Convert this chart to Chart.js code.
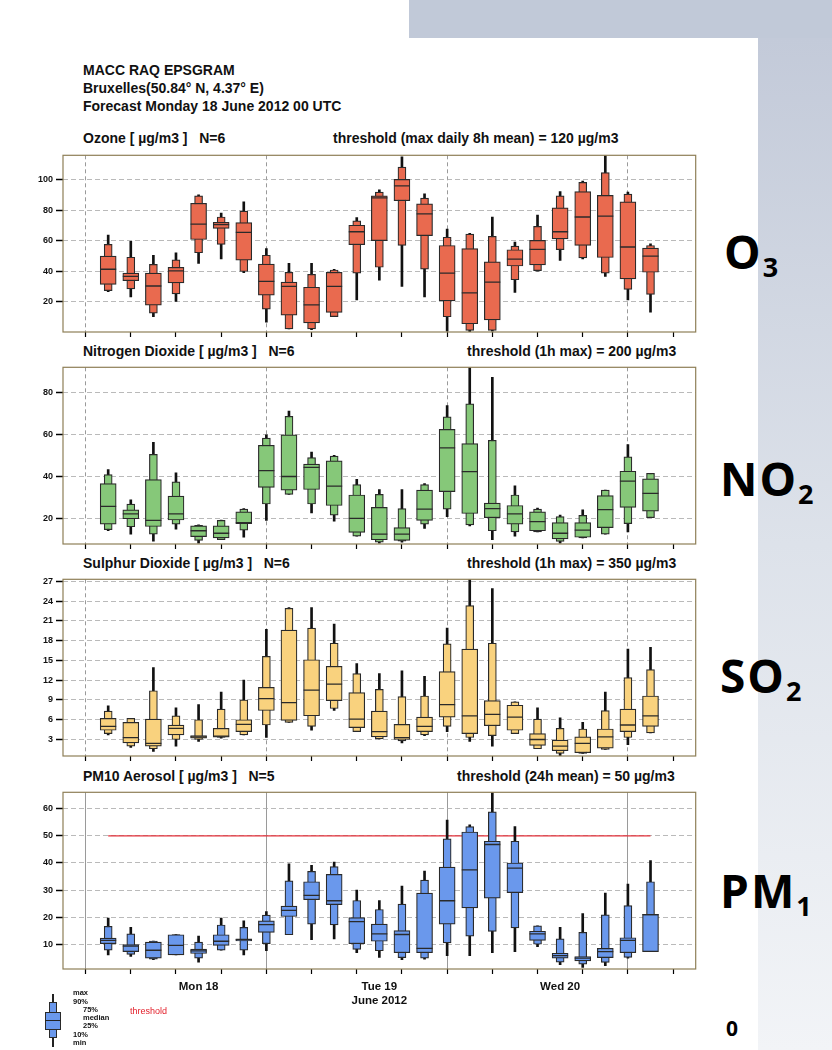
<!DOCTYPE html>
<html lang="en">
<head>
<meta charset="UTF-8">
<title>MACC RAQ EPSGRAM</title>
<script src="https://cdn.jsdelivr.net/npm/chart.js@4"></script>
<style>
  body { margin: 0; width: 832px; height: 1050px; position: relative; overflow: hidden; background: #fff;
         font-family: "Liberation Sans", Arial, sans-serif; color: #111; }
  .band { position: absolute; left: 409px; top: 0; width: 423px; height: 38px; background: #c1c9d8; }
  .strip { position: absolute; left: 758px; top: 38px; width: 74px; height: 1012px;
           background: linear-gradient(#c3cad9, #dde2ea 50%, #f2f4f7); }
  .txt { position: absolute; white-space: pre; font-weight: bold; }
  .head { left: 83px; font-size: 14px; }
  .title { font-size: 14px; }
  canvas { position: absolute; left: 20px; }
  .spc { position: absolute; font-family: "Open Sans", sans-serif; font-weight: bold; font-size: 46px; line-height: 1;
         letter-spacing: 2px; color: #000; }
  .spc sub { font-size: 27px; vertical-align: -0.3em; letter-spacing: 0; }
  .lg { position: absolute; font-size: 7.5px; font-weight: bold; line-height: 1; }
  .lgbox { position: absolute; background: #6a98ec; border: 1px solid #2a2a2a; box-sizing: border-box; }
</style>
</head>
<body>
  <div class="band"></div>
  <div class="strip"></div>

  <div class="txt head" style="top:62px">MACC RAQ EPSGRAM</div>
  <div class="txt head" style="top:80px">Bruxelles(50.84° N, 4.37° E)</div>
  <div class="txt head" style="top:98px">Forecast Monday 18 June 2012 00 UTC</div>

  <div class="txt title" style="left:83px; top:130px">Ozone [ µg/m3 ]   N=6</div>
  <div class="txt title" style="left:333px; top:130px">threshold (max daily 8h mean) = 120 µg/m3</div>
  <canvas id="o3Chart" width="685" height="196" style="top:146px"></canvas>

  <div class="txt title" style="left:83px; top:343px">Nitrogen Dioxide [ µg/m3 ]   N=6</div>
  <div class="txt title" style="left:467px; top:343px">threshold (1h max) = 200 µg/m3</div>
  <canvas id="no2Chart" width="685" height="196" style="top:358px"></canvas>

  <div class="txt title" style="left:83px; top:555px">Sulphur Dioxide [ µg/m3 ]   N=6</div>
  <div class="txt title" style="left:467px; top:555px">threshold (1h max) = 350 µg/m3</div>
  <canvas id="so2Chart" width="685" height="196" style="top:570px"></canvas>

  <div class="txt title" style="left:83px; top:768px">PM10 Aerosol [ µg/m3 ]   N=5</div>
  <div class="txt title" style="left:457px; top:768px">threshold (24h mean) = 50 µg/m3</div>
  <canvas id="pm10Chart" width="685" height="232" style="top:783px"></canvas>

  <!-- legend -->
  <div style="position:absolute; left:52px; top:994px; width:2px; height:53px; background:#222"></div>
  <div class="lgbox" style="left:49px; top:1002px; width:8px; height:36px"></div>
  <div class="lgbox" style="left:45px; top:1012px; width:16px; height:18px"></div>
  <div style="position:absolute; left:45px; top:1020px; width:16px; height:1px; background:#222"></div>
  <div class="lg" style="left:73px; top:989px">max</div>
  <div class="lg" style="left:73px; top:998px">90%</div>
  <div class="lg" style="left:83px; top:1006px">75%</div>
  <div class="lg" style="left:83px; top:1014px">median</div>
  <div class="lg" style="left:83px; top:1022px">25%</div>
  <div class="lg" style="left:73px; top:1031px">10%</div>
  <div class="lg" style="left:73px; top:1039px">min</div>
  <div class="lg" style="left:130px; top:1007px; font-size:9px; font-weight:normal; color:#e3202b">threshold</div>

  <div class="spc" style="left:724px; top:228px">O<sub>3</sub></div>
  <div class="spc" style="left:720px; top:455px">NO<sub>2</sub></div>
  <div class="spc" style="left:720px; top:652px">SO<sub>2</sub></div>
  <div class="spc" style="left:720px; top:867px">PM<sub>1</sub></div>
  <div class="spc" style="left:726px; top:1018px; font-size:21px">0</div>

<script>
// forecast step, hours after Mon 18 June 2012 00 UTC
const hours = [0, 3, 6, 9, 12, 15, 18, 21, 24, 27, 30, 33, 36, 39, 42, 45, 48, 51, 54, 57, 60, 63, 66, 69, 72];
const xTickHours = [-6, 0, 6, 12, 18, 24, 30, 36, 42, 48, 54, 60, 66, 72, 78];
const dayTickHours = [12, 36, 60];
const dayTickText = [['Mon 18'], ['Tue 19', 'June 2012'], ['Wed 20']];

// Ozone
const o3Ticks = [20, 40, 60, 80, 100];
const o3Min = [26.5, 23, 10, 20, 45, 48, 39, 6.5, 2, 1.5, 10, 21, 34, 30, 23, 0.5, 0, 0.5, 26, 40, 47, 48, 36.5, 21, 13];
const o3P10 = [27.2, 28.3, 12.4, 25, 52, 57.5, 39.7, 15, 2.1, 2.1, 10.1, 38.6, 42.5, 56.8, 41.2, 10, 1, 1, 34.3, 40.3, 54, 48.7, 38.6, 28, 24.7];
const o3P25 = [31.3, 33.7, 17.6, 32.2, 60.7, 68, 47.2, 24.2, 11.1, 6, 12.9, 57.3, 60, 86.2, 63.3, 20.4, 5.4, 7.9, 43.3, 44, 61.1, 56.8, 48.9, 34.9, 39.2];
const o3Med = [41.2, 36.5, 30.2, 40.1, 70.8, 70.5, 65.4, 33.2, 30, 17.8, 30, 65.8, 88, 95.9, 77.6, 38.6, 25.7, 32.8, 47.8, 54.3, 65.8, 75.5, 76.1, 55.8, 49.8];
const o3P75 = [49.8, 38.6, 38.6, 42.5, 84.5, 72, 71.8, 44.6, 32.8, 29.4, 39.2, 70.1, 89.4, 100.2, 84.1, 56.8, 54.7, 46.1, 54, 60.1, 81.5, 92.2, 89.7, 85.4, 55.1];
const o3P90 = [57.5, 49.1, 44.4, 47.4, 89.4, 75.5, 79.4, 50.4, 39.2, 37.9, 40.7, 72.9, 91.8, 108.3, 87.9, 62.2, 64.3, 62.8, 56.4, 69.3, 89.4, 98.2, 104.7, 90.5, 56.8];
const o3Max = [63.7, 59.6, 50.4, 51.9, 90, 78, 85.4, 54.7, 45, 45, 41.2, 75.1, 93.3, 115, 90.7, 67.6, 64.8, 75.5, 59, 76.8, 92.2, 99.1, 117, 91.8, 57.9];

// Nitrogen dioxide
const no2Ticks = [20, 40, 60, 80];
const no2Min = [14.3, 12.7, 9.4, 15.1, 8.4, 10.1, 11.2, 19.2, 31.6, 22.8, 18.9, 11.7, 8.4, 8.9, 15.4, 21, 16.6, 10.1, 11.7, 13.8, 8.4, 10.9, 12.7, 13.8, 20.5];
const no2P10 = [14.8, 16.2, 12.7, 17.4, 9.7, 10.1, 14.6, 27, 31.6, 27, 21.7, 11.7, 8.9, 9.4, 17.4, 24.6, 17.1, 14.3, 13.8, 13.8, 9.2, 10.9, 12.7, 17.7, 20.5];
const no2P25 = [17.4, 20, 16.3, 19.4, 11.5, 10.9, 17.7, 34.9, 33.6, 33.9, 26.3, 13.5, 10, 9.7, 19.2, 32.9, 22.5, 20.5, 17.4, 14.3, 10.4, 11.2, 15.8, 25.4, 23.6];
const no2Med = [25.9, 22.3, 19.2, 22.3, 14.3, 13.1, 18.2, 42.9, 40.1, 44.4, 35.5, 20.2, 12.7, 12.7, 24.6, 53.7, 42.4, 24.8, 22.3, 18.6, 13.1, 14.6, 24.3, 37.9, 32.1];
const no2P75 = [36.7, 24.2, 38.6, 30.8, 16.6, 16.6, 23.3, 54.9, 59.9, 46, 47.5, 31.3, 25.4, 15.8, 33.6, 62.5, 55.7, 27.4, 26.3, 23.3, 18.2, 18.2, 31, 42.6, 39];
const no2P90 = [41, 27, 50.6, 37.5, 16.9, 19.2, 24.6, 58.3, 68.7, 49.1, 49.8, 36.2, 31.6, 24.8, 36.2, 68.4, 74.6, 57.3, 31.3, 24.6, 21, 21.6, 33.6, 49.4, 41.6];
const no2Max = [43.4, 29, 56.3, 41.8, 17.1, 19.4, 24.8, 59.9, 71.2, 51.7, 50.1, 38.7, 33.9, 33.9, 36.7, 73.8, 93, 87.2, 35.6, 25.1, 21.7, 24.3, 33.6, 55.3, 41.6];

// Sulphur dioxide
const so2Ticks = [3, 6, 9, 12, 15, 18, 21, 24, 27];
const so2Min = [3.7, 1.8, 1.2, 2, 2.7, 3.2, 3.7, 3.3, 5.6, 4.4, 7.4, 4.2, 3.1, 2.5, 3.6, 4.2, 2.7, 2, 3.9, 1.6, 0.5, 0.9, 1.5, 2.2, 4];
const so2P10 = [3.9, 2, 1.6, 3, 3, 3.3, 3.7, 5.2, 5.6, 5, 7.7, 4.2, 3.1, 2.8, 3.7, 5, 3.3, 3.6, 3.9, 1.6, 0.9, 0.9, 1.5, 3.3, 4];
const so2P25 = [4.4, 2.5, 2, 3.7, 3.2, 3.35, 4.2, 7.4, 5.9, 6.6, 8.9, 4.8, 3.4, 3, 4.2, 6.4, 3.9, 5.1, 4.4, 2.1, 1.3, 1, 1.7, 4.2, 5];
const so2Med = [5, 3.3, 2.4, 4.7, 3.4, 3.5, 5.3, 9.2, 8.6, 10.5, 11.4, 6.1, 4.2, 3.3, 5, 8.3, 6.6, 6.8, 6.4, 3, 2, 2.4, 3.4, 5.2, 6.6];
const so2P75 = [6.2, 5.6, 6.1, 5.2, 3.6, 4.7, 6, 10.9, 19.6, 15.1, 14.1, 10.1, 7.3, 5.3, 6.4, 13.3, 16.7, 8.9, 8.2, 3.9, 2.9, 3.4, 4.6, 7.6, 9.6];
const so2P90 = [7.3, 6.2, 10.4, 6.6, 6, 7.6, 9, 15.6, 22.9, 19.9, 17.6, 13, 10.6, 9.5, 9.6, 17.5, 23.3, 17.6, 8.7, 6.1, 4.7, 4.6, 7.4, 12.4, 13.6];
const so2Max = [8.1, 6.2, 13.9, 7.8, 8.3, 10.2, 12, 19.7, 23, 23, 20.5, 14.5, 13, 13.4, 12.6, 19.9, 27.5, 25.9, 8.7, 7.8, 6.3, 5.6, 10.2, 16.7, 17];

// PM10 aerosol
const pm10Ticks = [10, 20, 30, 40, 50, 60];
const pm10Threshold = 50;
const pm10Min = [6.2, 5.6, 4.4, 6.2, 3.5, 7.9, 6.2, 7.7, 13.6, 11.8, 12.1, 7, 5.3, 4.4, 4.6, 5.9, 5.9, 7, 7.4, 9.2, 2.6, 1.6, 2.2, 5, 7.4];
const pm10P10 = [7.9, 6.4, 4.6, 6.2, 5, 7.9, 7.9, 10.3, 13.6, 17.5, 17.2, 8.2, 7.7, 5.2, 5, 10.6, 13.1, 14.8, 16.1, 10.1, 3.5, 2.8, 3.4, 5.3, 7.4];
const pm10P25 = [10.3, 7.4, 5, 6.2, 6.7, 9.7, 11.3, 14.5, 20.3, 26.5, 24.7, 10.3, 11.2, 7, 7, 17.5, 23.5, 27.1, 29.1, 11.5, 5, 4, 5.2, 7, 7.4];
const pm10Med = [11.5, 9.4, 7.9, 9.7, 7.7, 11.2, 11.8, 17.3, 22.6, 28.1, 26.1, 18.4, 13.9, 13.7, 8.6, 26.1, 37.5, 46.8, 38.1, 13.9, 5.9, 5, 7.4, 11.5, 21];
const pm10P75 = [12.4, 10, 10.9, 13.6, 8.3, 13.6, 12.1, 18.7, 24.1, 33.1, 35.8, 19.9, 17.5, 15.1, 28.9, 38.5, 51.4, 48, 40, 14.9, 6.8, 5.6, 8.6, 12.5, 21.1];
const pm10P90 = [16.7, 13.9, 11.3, 13.7, 10.9, 17.2, 16.3, 20.8, 33.4, 36.9, 38.7, 26.2, 22.9, 24.9, 33.7, 48.9, 53.4, 58.8, 48, 16.9, 12.1, 14.5, 20.9, 24.3, 33.1];
const pm10Max = [19.7, 16.3, 11.3, 13.7, 13.1, 19.7, 18.7, 22.1, 39.7, 39.1, 40.3, 30, 26.2, 31.5, 37, 55.8, 54, 67, 53.4, 16.9, 16.3, 21.4, 28.9, 32.2, 40.9];

const edge = '#2a2a2a';

// draws the brown frame round the plot area
const framePlugin = {
  id: 'frame',
  afterDatasetsDraw(chart) {
    const { ctx, chartArea: a } = chart;
    ctx.save();
    ctx.strokeStyle = '#8e7f57';
    ctx.lineWidth = 1.2;
    ctx.strokeRect(a.left, a.top, a.right - a.left, a.bottom - a.top);
    ctx.restore();
  }
};

function spans(lo, hi) {
  return hours.map((h, i) => ({ x: h, y: [lo[i], hi[i]] }));
}

function makePanel(id, p) {
  const datasets = [
    { type: 'bar', data: spans(p.min, p.max), backgroundColor: '#111', borderWidth: 0,
      barThickness: 2, grouped: false, order: 4 },
    { type: 'bar', data: spans(p.p10, p.p90), backgroundColor: p.color, borderColor: edge,
      borderWidth: 1.2, borderSkipped: false, barThickness: 8, grouped: false, order: 3 },
    { type: 'bar', data: spans(p.p25, p.p75), backgroundColor: p.color, borderColor: edge,
      borderWidth: 1.2, borderSkipped: false, barThickness: 16, grouped: false, order: 2 },
    { type: 'line', data: hours.map((h, i) => ({ x: h, y: p.med[i] })), showLine: false,
      pointStyle: 'line', pointRadius: 8, pointBorderWidth: 1.3, pointBorderColor: edge, order: 1 }
  ];
  if (p.threshold !== undefined) {
    datasets.push({ type: 'line', data: [{ x: hours[0], y: p.threshold }, { x: hours[hours.length - 1], y: p.threshold }],
      borderColor: '#e3303a', borderWidth: 1.2, pointRadius: 0, order: 5 });
  }

  new Chart(document.getElementById(id), {
    type: 'bar',
    data: { datasets },
    plugins: [framePlugin],
    options: {
      responsive: false,
      animation: false,
      devicePixelRatio: 1,
      events: [],
      layout: { padding: { top: 6, right: 5, left: 0, bottom: 0 } },
      plugins: { legend: { display: false }, tooltip: { enabled: false } },
      scales: {
        x: {
          type: 'linear', min: -6, max: 78, offset: false,
          afterBuildTicks: s => { s.ticks = xTickHours.map(v => ({ value: v })); },
          afterFit: s => { s.height = p.axisH; },
          grid: {
            color: c => (c.tick && c.tick.value % 24 === 0 && c.tick.value >= 0 && c.tick.value <= 72) ? '#9a9a9a' : 'rgba(0,0,0,0)',
            lineWidth: 1, tickColor: '#000', tickLength: 5, tickWidth: 1.2
          },
          border: { display: false, dash: p.solidDays ? [] : [4, 3] },
          ticks: {
            display: p.showDays, autoSkip: false, maxRotation: 0, padding: 6, color: '#111',
            font: { size: 11.5, weight: 'bold' },
            callback: v => { const k = dayTickHours.indexOf(v); return k < 0 ? '' : dayTickText[k]; }
          }
        },
        y: {
          min: p.yMin, max: p.yMax,
          afterBuildTicks: s => { s.ticks = p.ticks.map(v => ({ value: v })); },
          afterFit: s => { s.width = 43; },
          grid: { color: '#a8a8a8', lineWidth: 0.8, tickColor: '#000', tickLength: 7, tickWidth: 1.5 },
          border: { display: false, dash: [5, 3] },
          ticks: { padding: 3, color: '#111', font: { size: 9, weight: 'bold' } }
        }
      }
    }
  });
}

Chart.defaults.font.family = '"Liberation Sans", Arial, sans-serif';

makePanel('o3Chart', { min: o3Min, p10: o3P10, p25: o3P25, med: o3Med, p75: o3P75, p90: o3P90, max: o3Max,
  ticks: o3Ticks, yMin: 0, yMax: 116, color: '#e96a4f', axisH: 10, showDays: false });
makePanel('no2Chart', { min: no2Min, p10: no2P10, p25: no2P25, med: no2Med, p75: no2P75, p90: no2P90, max: no2Max,
  ticks: no2Ticks, yMin: 8, yMax: 92, color: '#86c879', axisH: 10, showDays: false });
makePanel('so2Chart', { min: so2Min, p10: so2P10, p25: so2P25, med: so2Med, p75: so2P75, p90: so2P90, max: so2Max,
  ticks: so2Ticks, yMin: 0.5, yMax: 27.3, color: '#f9d27e', axisH: 10, showDays: false });
makePanel('pm10Chart', { min: pm10Min, p10: pm10P10, p25: pm10P25, med: pm10Med, p75: pm10P75, p90: pm10P90, max: pm10Max,
  ticks: pm10Ticks, yMin: 1, yMax: 66, color: '#6a98ec', axisH: 46, showDays: true, solidDays: true, threshold: pm10Threshold });
</script>
</body>
</html>
